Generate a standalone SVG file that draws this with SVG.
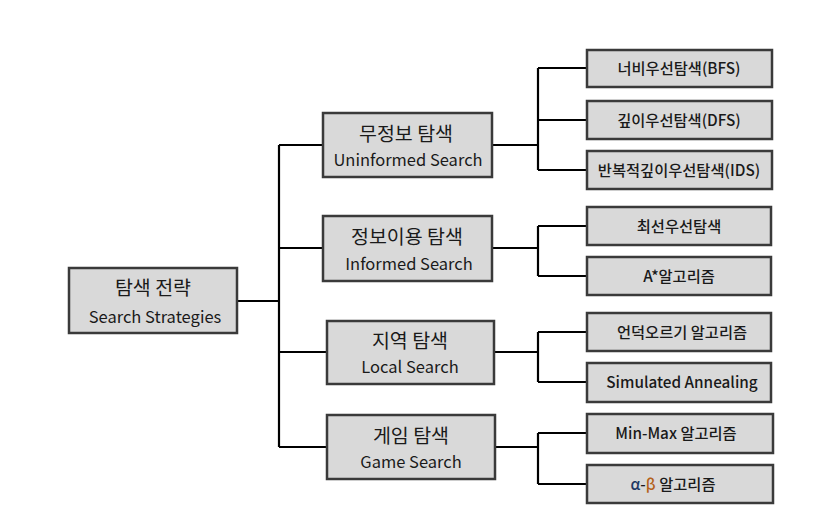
<svg xmlns="http://www.w3.org/2000/svg" width="836" height="518" viewBox="0 0 836 518">
<style>
.box{fill:#d9d9d9;stroke:#3a3a3a;stroke-width:2.5}
.ln{fill:none;stroke:#000;stroke-width:2.2}
text{font-family:"Noto Sans CJK KR","Noto Sans",sans-serif;text-anchor:middle;fill:#1a1a1a}
.ko{font-size:19.5px}
.en{font-size:16.5px}
.lf{font-size:15.3px;font-weight:500}
</style>
<rect width="836" height="518" fill="#fff"/>
<g id="connectors">
<path class="ln" d="M237 301H279M279 145V447M279 145H323M279 248H323M279 352H327M279 447H327"/>
<path class="ln" d="M492 145H538M538 68V170M538 68H587M538 120H587M538 170H587"/>
<path class="ln" d="M492 248H538M538 226V276M538 226H587M538 276H587"/>
<path class="ln" d="M494 352H538M538 332V382M538 332H587M538 382H587"/>
<path class="ln" d="M495 447H538M538 433V484M538 433H587M538 484H587"/>
</g>
<g id="root"><rect class="box" x="69" y="268" width="168" height="65"/><text class="ko" x="153" y="295">탐색 전략</text><text class="en" x="155" y="323">Search Strategies</text></g>
<g id="uninformed"><rect class="box" x="323" y="113" width="169" height="64"/><text class="ko" x="406" y="141">무정보 탐색</text><text class="en" x="408" y="166">Uninformed Search</text></g>
<g id="informed"><rect class="box" x="323" y="216" width="169" height="65"/><text class="ko" x="407" y="244">정보이용 탐색</text><text class="en" x="409" y="270">Informed Search</text></g>
<g id="local"><rect class="box" x="327" y="321" width="167" height="63"/><text class="ko" x="410" y="348">지역 탐색</text><text class="en" x="410" y="373">Local Search</text></g>
<g id="game"><rect class="box" x="327" y="415" width="168" height="64"/><text class="ko" x="411" y="443">게임 탐색</text><text class="en" x="411" y="468">Game Search</text></g>
<g id="bfs"><rect class="box" x="587" y="50" width="185" height="37"/><text class="lf" x="679" y="74">너비우선탐색(BFS)</text></g>
<g id="dfs"><rect class="box" x="587" y="101" width="185" height="38"/><text class="lf" x="679" y="126">깊이우선탐색(DFS)</text></g>
<g id="ids"><rect class="box" x="587" y="151" width="185" height="38"/><text class="lf" x="679" y="176">반복적깊이우선탐색(IDS)</text></g>
<g id="bestfirst"><rect class="box" x="587" y="207" width="184" height="38"/><text class="lf" x="679" y="232">최선우선탐색</text></g>
<g id="astar"><rect class="box" x="587" y="257" width="184" height="38"/><text class="lf" x="679" y="282">A*알고리즘</text></g>
<g id="hill"><rect class="box" x="587" y="313" width="184" height="38"/><text class="lf" x="682" y="338">언덕오르기 알고리즘</text></g>
<g id="sa"><rect class="box" x="587" y="363" width="184" height="39"/><text class="lf" x="682" y="388">Simulated Annealing</text></g>
<g id="minmax"><rect class="box" x="587" y="414" width="186" height="39"/><text class="lf" x="676" y="439">Min-Max 알고리즘</text></g>
<g id="alphabeta"><rect class="box" x="587" y="465" width="186" height="38"/><text class="lf" x="673" y="490"><tspan fill="#1f3864">α</tspan>-<tspan fill="#b4621b">β</tspan> 알고리즘</text></g>
</svg>
